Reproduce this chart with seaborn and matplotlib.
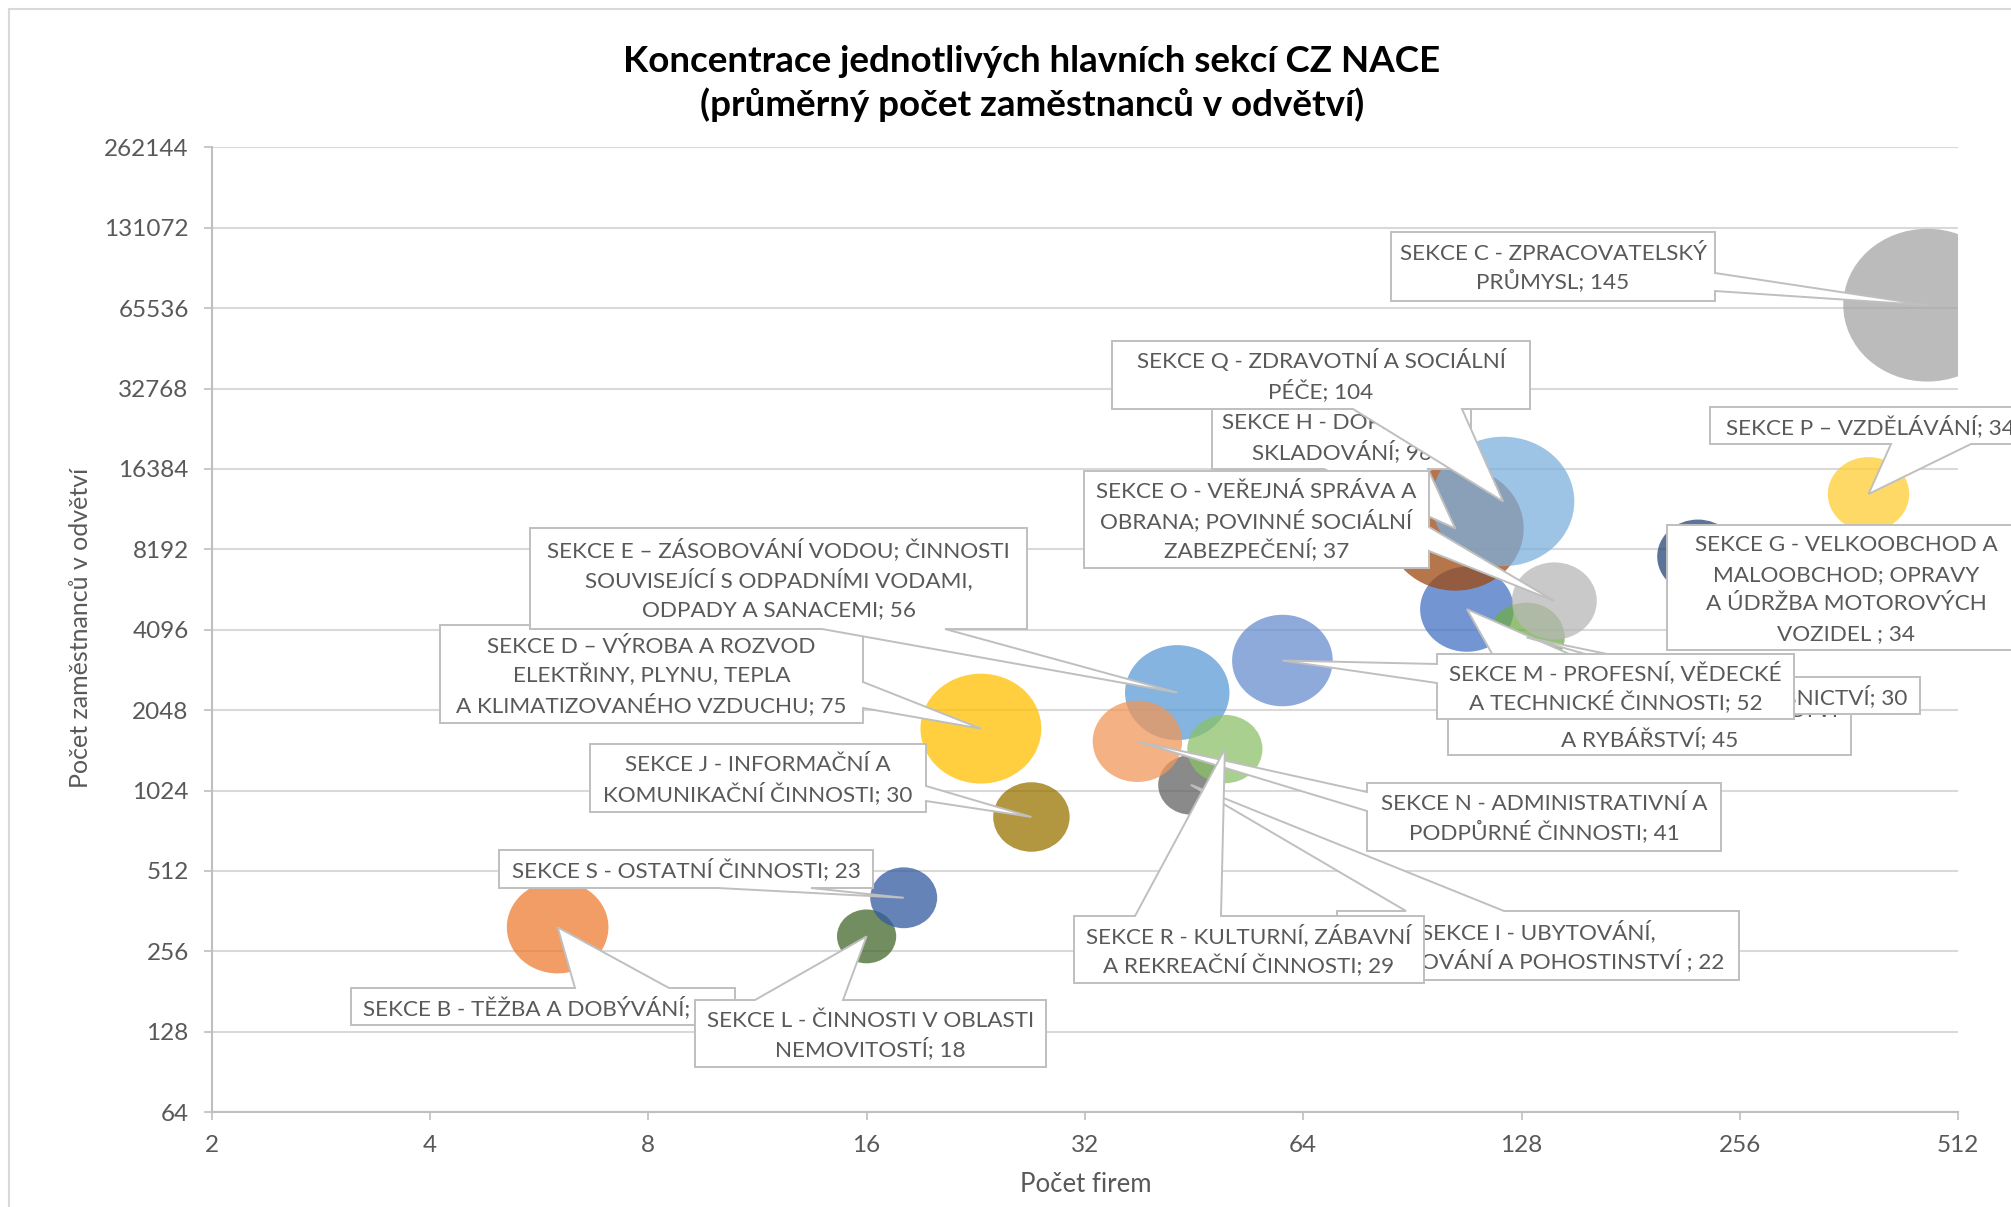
import numpy as np
import pandas as pd
import seaborn as sns
import matplotlib.pyplot as plt
from matplotlib.path import Path
from matplotlib.patches import Polygon, Rectangle

# ---------------------------------------------------------
# 1. Data
# ---------------------------------------------------------

sekce = ["A", "B", "C", "D", "E", "F", "G", "H", "I", "J",
         "L", "M", "N", "O", "P", "Q", "R", "S"]

pocet_firem = [107.6, 6.0, 464, 23.0, 42.9, 130, 224, 103.7, 44.8, 27.0,
               16.0, 59.9, 37.8, 142, 385, 120.7, 49.9, 18.0]

pocet_zamestnancu = [4890, 315, 67300, 1746, 2382, 3835, 7700, 9810, 1075, 815,
                     291, 3141, 1565, 5250, 13200, 12385, 1464, 406]

prumer = [45, 53, 145, 75, 56, 30, 34, 96, 22, 30,
          18, 52, 41, 37, 34, 104, 29, 23]

popisky = [
    "SEKCE A - ZEMĚDĚLSTVÍ, LESNICTVÍ\nA RYBÁŘSTVÍ",
    "SEKCE B - TĚŽBA A DOBÝVÁNÍ",
    "SEKCE C - ZPRACOVATELSKÝ\nPRŮMYSL",
    "SEKCE D – VÝROBA A ROZVOD\nELEKTŘINY, PLYNU, TEPLA\nA KLIMATIZOVANÉHO VZDUCHU",
    "SEKCE E – ZÁSOBOVÁNÍ VODOU; ČINNOSTI\nSOUVISEJÍCÍ S ODPADNÍMI VODAMI,\nODPADY A SANACEMI",
    "SEKCE F - STAVEBNICTVÍ",
    "SEKCE G - VELKOOBCHOD A\nMALOOBCHOD; OPRAVY\nA ÚDRŽBA MOTOROVÝCH\nVOZIDEL ",
    "SEKCE H - DOPRAVA A\nSKLADOVÁNÍ",
    "SEKCE I - UBYTOVÁNÍ,\nSTRAVOVÁNÍ A POHOSTINSTVÍ ",
    "SEKCE J - INFORMAČNÍ A\nKOMUNIKAČNÍ ČINNOSTI",
    "SEKCE L - ČINNOSTI V OBLASTI\nNEMOVITOSTÍ",
    "SEKCE M - PROFESNÍ, VĚDECKÉ\nA TECHNICKÉ ČINNOSTI",
    "SEKCE N - ADMINISTRATIVNÍ A\nPODPŮRNÉ ČINNOSTI",
    "SEKCE O - VEŘEJNÁ SPRÁVA A\nOBRANA; POVINNÉ SOCIÁLNÍ\nZABEZPEČENÍ",
    "SEKCE P – VZDĚLÁVÁNÍ",
    "SEKCE Q - ZDRAVOTNÍ A SOCIÁLNÍ\nPÉČE",
    "SEKCE R - KULTURNÍ, ZÁBAVNÍ\nA REKREAČNÍ ČINNOSTI",
    "SEKCE S - OSTATNÍ ČINNOSTI",
]

barvy = ["#4472C4", "#ED7D31", "#A5A5A5", "#FFC000", "#5B9BD5", "#70AD47",
         "#264478", "#9E480E", "#636363", "#997300", "#43682B", "#698ED0",
         "#F1975A", "#B7B7B7", "#FFCD33", "#7CAFDD", "#8CC168", "#335AA1"]

x_ticks = [2, 4, 8, 16, 32, 64, 128, 256, 512]
y_ticks = [64, 128, 256, 512, 1024, 2048, 4096, 8192, 16384,
           32768, 65536, 131072, 262144]

# rámečky popisků v pixelech (x0, y0, x1, y1 od levého horního rohu)
# a patka "zobáku": (strana, od, do)
ramecky = [
    ((1448, 691, 1851, 755), ("top", 1513, 1654)),
    ((351, 988, 735, 1025), ("top", 575, 669)),
    ((1391, 232, 1715, 301), ("right", 273, 291)),
    ((440, 625, 863, 723), ("right", 682, 708)),
    ((530, 528, 1027, 629), ("bottom", 822, 945)),
    ((1594, 677, 1920, 714), ("top", 1667, 1719)),
    ((1667, 525, 2025, 650), None),
    ((1212, 403, 1471, 469), ("bottom", 1324, 1428)),
    ((1337, 911, 1739, 980), ("top", 1406, 1504)),
    ((590, 744, 926, 812), ("right", 786, 801)),
    ((695, 1000, 1046, 1067), ("top", 755, 843)),
    ((1437, 654, 1794, 719), ("left", 664, 683)),
    ((1367, 783, 1721, 851), ("left", 792, 811)),
    ((1084, 471, 1429, 568), ("right", 527, 551)),
    ((1710, 407, 2030, 444), ("bottom", 1891, 1971)),
    ((1112, 341, 1530, 409), ("bottom", 1353, 1462)),
    ((1074, 916, 1424, 983), ("top", 1135, 1221)),
    ((499, 850, 873, 888), ("bottom", 718, 811)),
]

df = pd.DataFrame({
    "sekce": sekce,
    "firmy": pocet_firem,
    "zamestnanci": pocet_zamestnancu,
    "prumer": prumer,
})

# ---------------------------------------------------------
# 2. Graf
# ---------------------------------------------------------

W, H = 2011, 1207
sns.set_style("white")
plt.rcParams["font.family"] = ["Lato", "DejaVu Sans"]

SEDA = "#595959"
LINKA = "#BFBFBF"

fig = plt.figure(figsize=(W / 100, H / 100), dpi=100)
ax = fig.add_axes([0.1052, 0.0787, 0.8686, 0.7991])

kruh = Path.unit_circle()
elipsa = Path(kruh.vertices * [1.1, 1.0], kruh.codes)

sns.scatterplot(data=df, x="firmy", y="zamestnanci", hue="sekce",
                palette=dict(zip(sekce, barvy)), s=df["prumer"].to_numpy() * 101,
                marker=elipsa, alpha=0.75, linewidth=0, legend=False, ax=ax)

ax.set_xscale("log", base=2)
ax.set_yscale("log", base=2)
ax.set_xlim(2, 512)
ax.set_ylim(64, 262144)
ax.set_xticks(x_ticks)
ax.set_xticklabels([str(t) for t in x_ticks])
ax.set_yticks(y_ticks)
ax.set_yticklabels([str(t) for t in y_ticks])
ax.minorticks_off()

ax.yaxis.grid(True, color="#D9D9D9", linewidth=1.5)
ax.xaxis.grid(False)
ax.set_axisbelow(True)
for side in ["top", "right"]:
    ax.spines[side].set_visible(False)
for side in ["left", "bottom"]:
    ax.spines[side].set_color(LINKA)
    ax.spines[side].set_linewidth(1.5)
ax.tick_params(axis="both", length=5.5, width=1.2, color=LINKA,
               labelcolor=SEDA, labelsize=17.5, pad=11, direction="out",
               left=True, bottom=True)

ax.set_xlabel("Počet firem", fontsize=18.5, color=SEDA)
ax.set_ylabel("Počet zaměstnanců v odvětví", fontsize=18, color=SEDA)
ax.xaxis.set_label_coords(0.5006, -0.0617)
ax.yaxis.set_label_coords(-0.0685, 0.502)

fig.text(0.513, 1 - 62 / H, "Koncentrace jednotlivých hlavních sekcí CZ NACE",
         ha="center", va="center", fontsize=26.5, fontweight="bold", color="black")
fig.text(0.513, 1 - 105 / H, "(průměrný počet zaměstnanců v odvětví)",
         ha="center", va="center", fontsize=26.5, fontweight="bold", color="black")

# rámeček celého grafu (viditelný jen vlevo a nahoře)
fig.add_artist(Rectangle((9 / W, -0.1), 1.2, 1.1 - 9 / H, fill=False,
                         ec="#D9D9D9", lw=1.5, transform=fig.transFigure))

# ---------------------------------------------------------
# 3. Popisky s "bublinou" (jako v Excelu)
# ---------------------------------------------------------

def bublina(box, zobak, tip):
    x0, y0, x1, y1 = box
    L, R = x0 / W, x1 / W
    T, B = 1 - y0 / H, 1 - y1 / H
    strana = zobak[0] if zobak else None
    body = [(L, T)]
    if strana == "top":
        body += [(zobak[1] / W, T), tip, (zobak[2] / W, T)]
    body.append((R, T))
    if strana == "right":
        body += [(R, 1 - zobak[1] / H), tip, (R, 1 - zobak[2] / H)]
    body.append((R, B))
    if strana == "bottom":
        body += [(zobak[2] / W, B), tip, (zobak[1] / W, B)]
    body.append((L, B))
    if strana == "left":
        body += [(L, 1 - zobak[2] / H), tip, (L, 1 - zobak[1] / H)]
    return body

fs = 16.2
radek = 29.5
do_fig = fig.transFigure.inverted()

for i in range(len(sekce)):
    box, zobak = ramecky[i]
    tip = tuple(do_fig.transform(ax.transData.transform((pocet_firem[i], pocet_zamestnancu[i]))))
    fig.add_artist(Polygon(bublina(box, zobak, tip), closed=True, fc="white",
                           ec=LINKA, lw=1.4, transform=fig.transFigure, zorder=10 + 2 * i))

    text = popisky[i] + "; " + str(prumer[i])
    radky = text.split("\n")
    cx = (box[0] + box[2]) / 2
    cy = (box[1] + box[3]) / 2
    for j, r in enumerate(radky):
        stred = cy + (j - (len(radky) - 1) / 2) * radek
        fig.text(cx / W, 1 - (stred + 0.36 * fs * 100 / 72) / H, r,
                 ha="center", va="baseline", fontsize=fs, color=SEDA,
                 zorder=11 + 2 * i)

fig.savefig("out.png", dpi=100)
